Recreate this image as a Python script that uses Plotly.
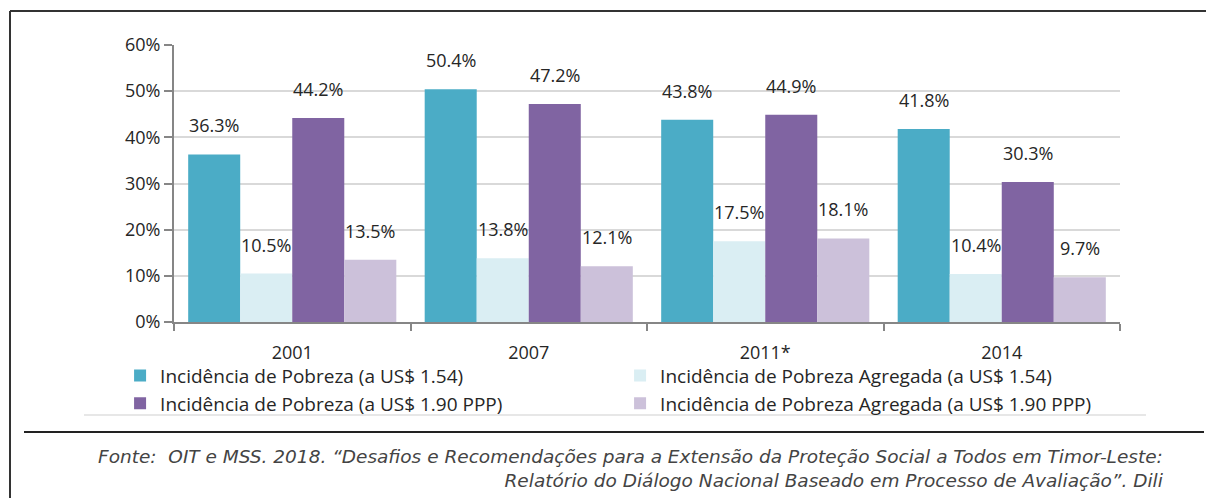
import plotly.graph_objects as go

categories = ["2001", "2007", "2011*", "2014"]
series_names = [
    "Incidência de Pobreza (a US$ 1.54)",
    "Incidência de Pobreza Agregada (a US$ 1.54)",
    "Incidência de Pobreza (a US$ 1.90 PPP)",
    "Incidência de Pobreza Agregada (a US$ 1.90 PPP)",
]
pobreza_154 = [36.3, 50.4, 43.8, 41.8]
agregada_154 = [10.5, 13.8, 17.5, 10.4]
pobreza_190 = [44.2, 47.2, 44.9, 30.3]
agregada_190 = [13.5, 12.1, 18.1, 9.7]
series_values = [pobreza_154, agregada_154, pobreza_190, agregada_190]
colors = ["#4BACC6", "#DAEEF3", "#8064A2", "#CCC1DA"]
y_ticks = [0, 10, 20, 30, 40, 50, 60]
y_tick_labels = ["0%", "10%", "20%", "30%", "40%", "50%", "60%"]
source_text = ("Fonte:  OIT e MSS. 2018. “Desafios e Recomendações para a Extensão da Proteção Social a Todos em Timor-Leste:<br>"
               "Relatório do Diálogo Nacional Baseado em Processo de Avaliação”. Dili")

FONT = "Open Sans"
TXT = "#262626"
W, H = 1206, 498
ML, MR, MT, MB = 174, 86, 45, 176
BARGAP = 0.12

fig = go.Figure()
for name, vals, col in zip(series_names, series_values, colors):
    fig.add_trace(go.Bar(
        x=categories, y=vals, name=name,
        marker=dict(color=col, line=dict(width=0)),
        hoverinfo="skip",
    ))

# value labels above bars (x given as category index)
n = len(series_values)
cat_w = (W - ML - MR) / len(categories)
bar_w = cat_w * (1 - BARGAP) / n
annotations = []
for i, vals in enumerate(series_values):
    shift = (i - (n - 1) / 2) * bar_w
    for j, v in enumerate(vals):
        annotations.append(dict(
            x=j, y=v, xref="x", yref="y", xshift=shift, yshift=15,
            text=f"{v:.1f}%", showarrow=False, xanchor="center", yanchor="bottom",
            font=dict(family=FONT, size=18, color=TXT),
        ))

fig.update_layout(
    width=W, height=H,
    margin=dict(l=ML, r=MR, t=MT, b=MB),
    paper_bgcolor="white", plot_bgcolor="white",
    barmode="group", bargap=BARGAP, bargroupgap=0,
    font=dict(family=FONT, size=18, color=TXT),
    showlegend=True,
    legend=dict(
        orientation="h", x=-0.057, y=-0.125, xanchor="left", yanchor="top",
        entrywidth=455, entrywidthmode="pixels",
        font=dict(family=FONT, size=19, color=TXT),
        itemsizing="constant", tracegroupgap=0,
        bgcolor="rgba(0,0,0,0)",
    ),
    xaxis=dict(
        type="category", showline=True, linecolor="#868686", linewidth=2,
        ticks="outside", tickson="boundaries", ticklen=7, tickcolor="#868686", tickwidth=2,
        showgrid=False, ticklabelstandoff=13,
        tickfont=dict(family=FONT, size=18, color=TXT),
        range=[-0.5, len(categories) - 0.5],
    ),
    yaxis=dict(
        range=[0, 60], tickvals=y_ticks, ticktext=y_tick_labels,
        showline=True, linecolor="#868686", linewidth=2,
        ticks="outside", ticklen=8, tickcolor="#868686", tickwidth=2,
        showgrid=True, gridcolor="#D9D9D9", gridwidth=2, zeroline=False,
        tickfont=dict(family=FONT, size=18, color=TXT),
    ),
)

def px_x(p):
    return (p - ML) / (W - ML - MR)

def px_y(p):
    return (H - MB - p) / (H - MT - MB)

shapes = [
    dict(type="line", xref="paper", yref="paper", x0=px_x(10), x1=px_x(10), y0=px_y(11), y1=px_y(498), line=dict(color="#333333", width=2)),
    dict(type="line", xref="paper", yref="paper", x0=px_x(10), x1=px_x(1206), y0=px_y(11), y1=px_y(11), line=dict(color="#333333", width=2)),
    dict(type="line", xref="paper", yref="paper", x0=px_x(84), x1=px_x(1146), y0=px_y(415), y1=px_y(415), line=dict(color="#CFCFCF", width=1)),
    dict(type="line", xref="paper", yref="paper", x0=px_x(24), x1=px_x(1204), y0=px_y(432), y1=px_y(432), line=dict(color="#222222", width=2)),
]

annotations.append(dict(
    xref="paper", yref="paper", x=px_x(1166), y=px_y(444), xanchor="right", yanchor="top",
    text=f"<i>{source_text}</i>", showarrow=False, align="right",
    font=dict(family="DejaVu Sans", size=18.5, color="#444444"),
))
fig.update_layout(shapes=shapes, annotations=annotations)

fig.write_html("out.html", config={"displayModeBar": False},
               post_script="document.body.style.margin='0';")
